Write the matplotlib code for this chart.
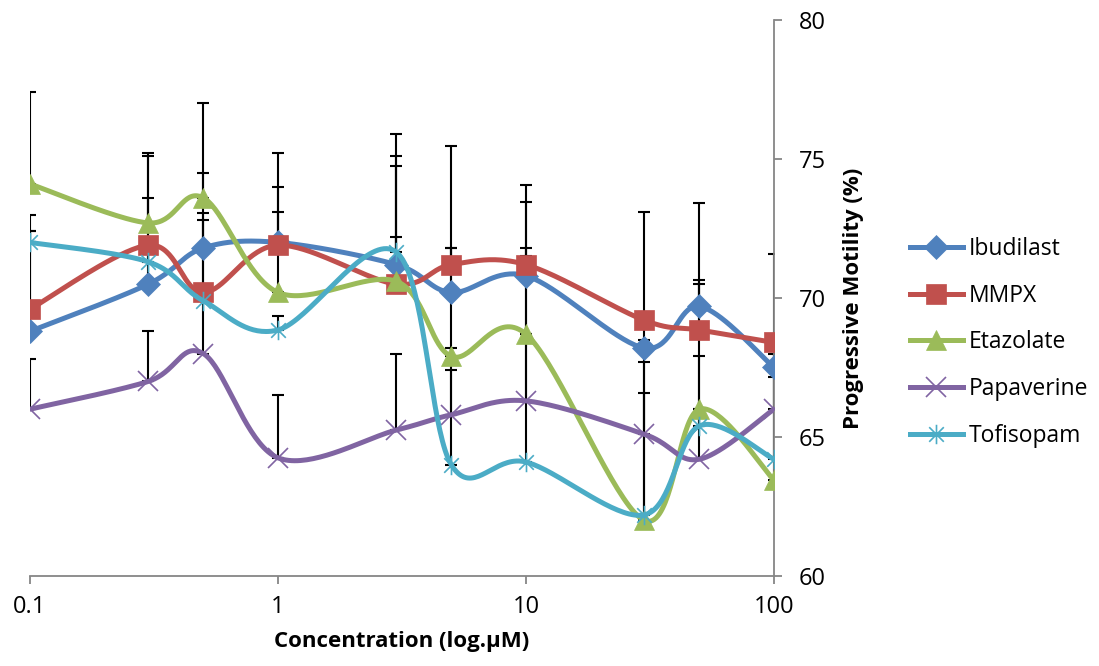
import matplotlib.pyplot as plt
import numpy as np
from matplotlib.path import Path

# Concentrations (uM) and progressive motility (%) per compound
conc = [0.1, 0.3, 0.5, 1, 3, 5, 10, 30, 50, 100]

ibudilast = [68.8, 70.5, 71.8, 72.0, 71.2, 70.2, 70.8, 68.2, 69.7, 67.5]
mmpx = [69.6, 71.9, 70.2, 71.9, 70.5, 71.2, 71.2, 69.2, 68.85, 68.4]
etazolate = [74.1, 72.7, 73.6, 70.2, 70.6, 67.9, 68.7, 62.0, 66.0, 63.45]
papaverine = [66.0, 67.0, 68.0, 64.25, 65.25, 65.8, 66.3, 65.1, 64.2, 66.0]
tofisopam = [72.0, 71.3, 69.9, 68.85, 71.65, 64.0, 64.1, 62.2, 65.4, 64.2]

# upper error bars (SD), read from the cap positions
ibudilast_err = [3.6, 3.1, 2.7, 3.2, 4.7, 1.6, 1.0, 0.3, 0.95, 0.2]
mmpx_err = [3.4, 3.2, 2.85, 2.1, 4.25, 4.25, 0.3, 0.3, 1.65, 0.3]
etazolate_err = [3.3, 2.5, 3.4, 2.9, 4.5, 0.3, 5.35, 4.6, 7.4, 3.7]
papaverine_err = [1.8, 1.8, 4.8, 2.25, 2.75, 6.0, 7.15, 2.6, 3.7, 2.0]
tofisopam_err = [0.4, 0.5, 0.5, 0.5, 0.55, 3.4, 4.6, 10.9, 0.6, 7.4]

names = ['Ibudilast', 'MMPX', 'Etazolate', 'Papaverine', 'Tofisopam']
series = [ibudilast, mmpx, etazolate, papaverine, tofisopam]
errors = [ibudilast_err, mmpx_err, etazolate_err, papaverine_err, tofisopam_err]
colors = ['#4F81BD', '#C0504D', '#9BBB59', '#8064A2', '#4BACC6']

# Excel-style asterisk: vertical bar plus an X
asterisk = Path([(0, -1), (0, 1), (-0.75, -0.75), (0.75, 0.75), (-0.75, 0.75), (0.75, -0.75)],
                [Path.MOVETO, Path.LINETO, Path.MOVETO, Path.LINETO, Path.MOVETO, Path.LINETO])
markers = ['D', 's', '^', 'x', asterisk]
msizes = [12, 14, 14, 14, 14]


def smooth(xs, ys, n=40):
    # Catmull-Rom / Bezier smoothing like Excel's "smoothed line", done in log-x space
    u = np.log10(np.asarray(xs, float))
    v = np.asarray(ys, float)
    P = np.column_stack([u, v])
    P = np.vstack([P[0], P, P[-1]])
    out = []
    t = np.linspace(0, 1, n)[:, None]
    for i in range(1, len(P) - 2):
        p0, p1, p2, p3 = P[i - 1], P[i], P[i + 1], P[i + 2]
        b1 = p1 + (p2 - p0) / 6.0
        b2 = p2 - (p3 - p1) / 6.0
        seg = ((1 - t) ** 3) * p1 + 3 * ((1 - t) ** 2) * t * b1 + 3 * (1 - t) * t ** 2 * b2 + t ** 3 * p2
        out.append(seg if i == 1 else seg[1:])
    out = np.vstack(out)
    return 10 ** out[:, 0], out[:, 1]


plt.rcParams['font.family'] = ['Open Sans', 'DejaVu Sans']

fig = plt.figure(figsize=(10.99, 6.66), dpi=100)
ax = fig.add_axes([30 / 1099, 1 - 576 / 666, 744 / 1099, 556 / 666])

for i, (name, ys) in enumerate(zip(names, series)):
    ax.errorbar(conc, ys, yerr=[np.zeros(len(ys)), errors[i]], fmt='none', ecolor='black',
                elinewidth=1.5, capsize=4.5, capthick=1.5, zorder=2)

for i, (name, ys) in enumerate(zip(names, series)):
    sx, sy = smooth(conc, ys)
    ax.plot(sx, sy, color=colors[i], lw=3.6, zorder=3 + i, solid_capstyle='round')
    ax.plot(conc, ys, ls='none', marker=markers[i], ms=msizes[i], color=colors[i],
            mec=colors[i], mew=1.2 if i >= 3 else 0.5, zorder=3 + i)
    ax.plot([], [], color=colors[i], lw=3.6, marker=markers[i], ms=msizes[i],
            mec=colors[i], mew=1.2 if i >= 3 else 0.5, label=name)

ax.set_xscale('log')
ax.set_xlim(0.1, 100)
ax.set_ylim(60, 80)
ax.set_yticks([60, 65, 70, 75, 80])
ax.set_xticks([0.1, 1, 10, 100])
ax.set_xticklabels(['0.1', '1', '10', '100'])
ax.minorticks_off()

ax.yaxis.tick_right()
ax.yaxis.set_label_position('right')
for sp in ['top', 'left']:
    ax.spines[sp].set_visible(False)
for sp in ['right', 'bottom']:
    ax.spines[sp].set_color('#868686')
    ax.spines[sp].set_linewidth(1.3)
ax.tick_params(axis='both', colors='#868686', labelcolor='black', labelsize=17,
               length=6, width=1.3, direction='out')
ax.tick_params(axis='y', pad=12)
ax.tick_params(axis='x', pad=8)

ax.set_xlabel('Concentration (log.µM)', fontsize=16, fontweight='bold', labelpad=8)
ax.set_ylabel('Progressive Motility (%)', fontsize=16, fontweight='bold', labelpad=12)

ax.legend(loc='center left', bbox_to_anchor=(1.155, 0.42), frameon=False, fontsize=16.5,
          handlelength=2.3, labelspacing=1.0, handletextpad=0.25)

plt.savefig('out.png', dpi=100)
plt.close()
